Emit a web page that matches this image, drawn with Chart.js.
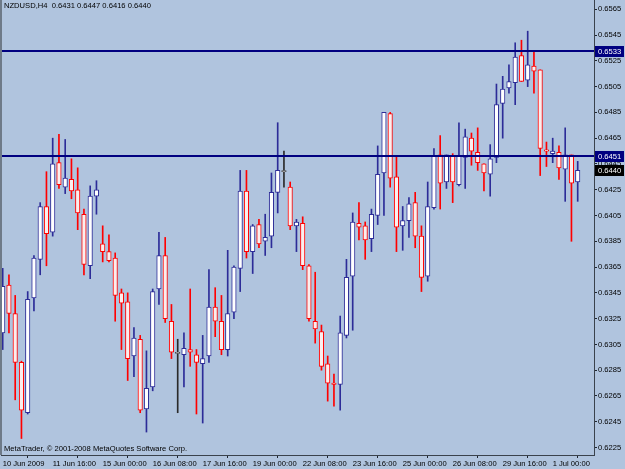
<!DOCTYPE html>
<html>
<head>
<meta charset="utf-8">
<script src="https://cdn.jsdelivr.net/npm/chart.js@4.4.1/dist/chart.umd.min.js"></script>
<style>
  html, body { margin: 0; padding: 0; background: #b0c4de; }
  #wrap { width: 625px; height: 469px; }
</style>
</head>
<body>
<div id="wrap"><canvas id="chart" width="625" height="469"></canvas></div>
<script>
// NZDUSD H4, 10 Jun 2009 08:00 .. 1 Jul 2009 16:00 (one entry per bar)
const symbol = 'NZDUSD,H4';

const open = [
  0.6314, 0.6351, 0.6329, 0.6291, 0.6252, 0.6341, 0.6371, 0.6412, 0.6392, 0.6446,
  0.6427, 0.6433, 0.6425, 0.6406, 0.6366, 0.6420, 0.6383, 0.6377, 0.6372, 0.6345,
  0.6338, 0.6296, 0.6309, 0.6255, 0.6272, 0.6348, 0.6374, 0.6323, 0.6298, 0.6297,
  0.6301, 0.6297, 0.6290, 0.6296, 0.6334, 0.6323, 0.6301, 0.6330, 0.6364, 0.6424,
  0.6377, 0.6398, 0.6385, 0.6389, 0.6423, 0.6439, 0.6427, 0.6397, 0.6399, 0.6366,
  0.6323, 0.6315, 0.6290, 0.6275, 0.6274, 0.6312, 0.6358, 0.6399, 0.6397, 0.6387,
  0.6405, 0.6438, 0.6484, 0.6435, 0.6397, 0.6401, 0.6415, 0.6389, 0.6358, 0.6411,
  0.6452, 0.6431, 0.6451, 0.6429, 0.6450, 0.6465, 0.6454, 0.6445, 0.6437, 0.6450,
  0.6492, 0.6504, 0.6508, 0.6529, 0.6510, 0.6521, 0.6518, 0.6456, 0.6453, 0.6454,
  0.6441, 0.6452, 0.6431
];
const high = [
  0.6364, 0.6359, 0.6343, 0.6292, 0.6346, 0.6374, 0.6415, 0.6439, 0.6465, 0.6468,
  0.6464, 0.6449, 0.6442, 0.6410, 0.6428, 0.6432, 0.6397, 0.6390, 0.6376, 0.6348,
  0.6345, 0.6318, 0.6312, 0.6300, 0.6348, 0.6392, 0.6388, 0.6336, 0.6309, 0.6314,
  0.6348, 0.6301, 0.6312, 0.6363, 0.6349, 0.6343, 0.6378, 0.6366, 0.6440, 0.6440,
  0.6398, 0.6402, 0.6406, 0.6438, 0.6477, 0.6455, 0.6431, 0.6402, 0.6404, 0.6367,
  0.6361, 0.6320, 0.6296, 0.6282, 0.6327, 0.6371, 0.6407, 0.6415, 0.6400, 0.6410,
  0.6459, 0.6485, 0.6485, 0.6451, 0.6412, 0.6419, 0.6423, 0.6397, 0.6431, 0.6457,
  0.6467, 0.6452, 0.6453, 0.6477, 0.6472, 0.6469, 0.6473, 0.6445, 0.6460, 0.6507,
  0.6513, 0.6522, 0.6539, 0.6541, 0.6548, 0.6532, 0.6518, 0.6462, 0.6465, 0.6459,
  0.6473, 0.6452, 0.6447
];
const low = [
  0.6301, 0.6314, 0.6262, 0.6232, 0.6251, 0.6331, 0.6359, 0.6366, 0.6389, 0.6426,
  0.6422, 0.6418, 0.6394, 0.6359, 0.6356, 0.6406, 0.6369, 0.6369, 0.6323, 0.6301,
  0.6277, 0.6280, 0.6252, 0.6237, 0.6269, 0.6336, 0.6322, 0.6294, 0.6252, 0.6272,
  0.6288, 0.6251, 0.6244, 0.6291, 0.6311, 0.6297, 0.6296, 0.6325, 0.6346, 0.6372,
  0.6360, 0.6380, 0.6374, 0.6380, 0.6407, 0.6427, 0.6394, 0.6377, 0.6363, 0.6323,
  0.6306, 0.6285, 0.6261, 0.6257, 0.6254, 0.6310, 0.6316, 0.6386, 0.6371, 0.6377,
  0.6398, 0.6405, 0.6427, 0.6377, 0.6378, 0.6388, 0.6380, 0.6346, 0.6354, 0.6410,
  0.6410, 0.6426, 0.6415, 0.6428, 0.6426, 0.6444, 0.6440, 0.6424, 0.6420, 0.6446,
  0.6465, 0.6500, 0.6491, 0.6509, 0.6505, 0.6500, 0.6436, 0.6443, 0.6446, 0.6433,
  0.6416, 0.6385, 0.6416
];
const close = [
  0.6350, 0.6329, 0.6291, 0.6254, 0.6340, 0.6372, 0.6412, 0.6391, 0.6445, 0.6429,
  0.6434, 0.6424, 0.6407, 0.6367, 0.6420, 0.6425, 0.6377, 0.6370, 0.6343, 0.6337,
  0.6294, 0.6310, 0.6254, 0.6271, 0.6346, 0.6374, 0.6325, 0.6299, 0.6298, 0.6302,
  0.6299, 0.6291, 0.6294, 0.6334, 0.6323, 0.6301, 0.6329, 0.6365, 0.6424, 0.6377,
  0.6397, 0.6383, 0.6388, 0.6423, 0.6440, 0.6439, 0.6397, 0.6400, 0.6366, 0.6325,
  0.6317, 0.6288, 0.6275, 0.6274, 0.6314, 0.6357, 0.6400, 0.6396, 0.6386, 0.6406,
  0.6437, 0.6485, 0.6434, 0.6396, 0.6401, 0.6414, 0.6389, 0.6357, 0.6412, 0.6451,
  0.6430, 0.6452, 0.6431, 0.6451, 0.6466, 0.6455, 0.6446, 0.6438, 0.6449, 0.6491,
  0.6503, 0.6509, 0.6528, 0.6509, 0.6522, 0.6517, 0.6457, 0.6455, 0.6455, 0.6442,
  0.6452, 0.6430, 0.6440
];

// horizontal lines drawn on the chart
const levels = [0.6533, 0.6451];

const priceTicks = [
  0.6225, 0.6245, 0.6265, 0.6285, 0.6305, 0.6325, 0.6345, 0.6365, 0.6385,
  0.6405, 0.6425, 0.6445, 0.6465, 0.6485, 0.6505, 0.6525, 0.6545, 0.6565
];
const xTickBars = [0, 8, 16, 24, 32, 40, 48, 56, 64, 72, 80, 88];
const xTickLabels = [
  '10 Jun 2009', '11 Jun 16:00', '15 Jun 00:00', '16 Jun 08:00', '17 Jun 16:00', '19 Jun 00:00',
  '22 Jun 08:00', '23 Jun 16:00', '25 Jun 00:00', '26 Jun 08:00', '29 Jun 16:00', '1 Jul 00:00'
];

const FONT = '"Liberation Sans", Arial, sans-serif';
const UP = '#2c2c98', DOWN = '#ff0000', FLAT = '#2a2a2a';

const bars = open.map((v, i) => i);
const barColor = i => close[i] > open[i] ? UP : (close[i] < open[i] ? DOWN : FLAT);

const mt4 = {
  id: 'mt4',
  beforeDraw(chart) {
    const ctx = chart.ctx;
    ctx.save();
    ctx.fillStyle = '#b0c4de';
    ctx.fillRect(0, 0, chart.width, chart.height);
    ctx.restore();
  },
  afterDatasetsDraw(chart) {
    const ctx = chart.ctx, a = chart.chartArea, y = chart.scales.y;
    ctx.save();
    ctx.strokeStyle = '#000080';
    ctx.lineWidth = 2;
    levels.forEach(v => {
      const py = Math.round(y.getPixelForValue(v));
      ctx.beginPath();
      ctx.moveTo(a.left, py);
      ctx.lineTo(a.right, py);
      ctx.stroke();
    });
    ctx.restore();
  },
  afterDraw(chart) {
    const ctx = chart.ctx, a = chart.chartArea, y = chart.scales.y;
    const last = close.length - 1;
    ctx.save();
    // left frame
    ctx.fillStyle = '#6e7a88';
    ctx.fillRect(0, 0, 2, a.bottom);

    ctx.font = '7.6px ' + FONT;
    ctx.textBaseline = 'middle';
    ctx.textAlign = 'left';

    // price boxes on the axis
    const box = (v, bg) => {
      const py = Math.round(y.getPixelForValue(v));
      ctx.fillStyle = bg;
      ctx.fillRect(a.right + 1, py - 5, 29, 11);
      ctx.fillStyle = '#ffffff';
      ctx.fillText(v.toFixed(4), a.right + 4, py + 0.5);
    };
    levels.forEach(v => box(v, '#000080'));
    box(close[last], '#000000');

    // symbol and last bar OHLC
    ctx.fillStyle = '#000000';
    ctx.fillText(symbol + '  ' + [open[last], high[last], low[last], close[last]].map(v => v.toFixed(4)).join(' '), 4, 6);
    ctx.fillText('MetaTrader, \u00a9 2001-2008 MetaQuotes Software Corp.', 4, a.bottom - 6);
    ctx.restore();
  }
};

new Chart(document.getElementById('chart'), {
  type: 'bar',
  data: {
    datasets: [
      {
        label: 'wick',
        data: bars.map(i => ({ x: i, y: [low[i], high[i]] })),
        backgroundColor: bars.map(barColor),
        borderWidth: 0,
        barThickness: 1,
        maxBarThickness: 1,
        grouped: false,
        order: 2
      },
      {
        label: 'body',
        data: bars.map(i => ({ x: i, y: [open[i], close[i]] })),
        backgroundColor: bars.map(i => close[i] < open[i] ? '#fbeeee' : '#ffffff'),
        borderColor: bars.map(barColor),
        borderWidth: 1,
        borderSkipped: false,
        barThickness: 4.5,
        maxBarThickness: 4.5,
        minBarLength: 1,
        grouped: false,
        order: 1
      }
    ]
  },
  options: {
    responsive: false,
    animation: false,
    devicePixelRatio: 1,
    layout: { padding: { left: 1, top: 0, right: 0, bottom: 0 } },
    plugins: { legend: { display: false }, tooltip: { enabled: false } },
    scales: {
      x: {
        type: 'linear',
        min: -0.272,
        max: 94.608,
        offset: false,
        grid: { drawOnChartArea: false, drawTicks: true, tickLength: 3, color: '#1e2630' },
        border: { display: true, color: '#3a424c', width: 1 },
        ticks: {
          autoSkip: false, maxRotation: 0, minRotation: 0, align: 'start', padding: 1,
          color: '#000000', font: { family: FONT, size: 7.6 },
          callback: (v, i) => xTickLabels[i]
        },
        afterBuildTicks: s => { s.ticks = xTickBars.map(v => ({ value: v })); },
        afterFit: s => { s.height = 14; s.paddingLeft = 0; s.paddingRight = 0; }
      },
      y: {
        position: 'right',
        min: 0.62192,
        max: 0.65722,
        grid: { drawOnChartArea: false, drawTicks: true, tickLength: 3, color: '#1e2630' },
        border: { display: true, color: '#3a424c', width: 1 },
        ticks: {
          autoSkip: false, padding: 1,
          color: '#000000', font: { family: FONT, size: 7.6 },
          callback: v => v.toFixed(4)
        },
        afterBuildTicks: s => { s.ticks = priceTicks.map(v => ({ value: v })); },
        afterFit: s => { s.width = 31; s.paddingTop = 0; s.paddingBottom = 0; }
      }
    }
  },
  plugins: [mt4]
});
</script>
</body>
</html>
